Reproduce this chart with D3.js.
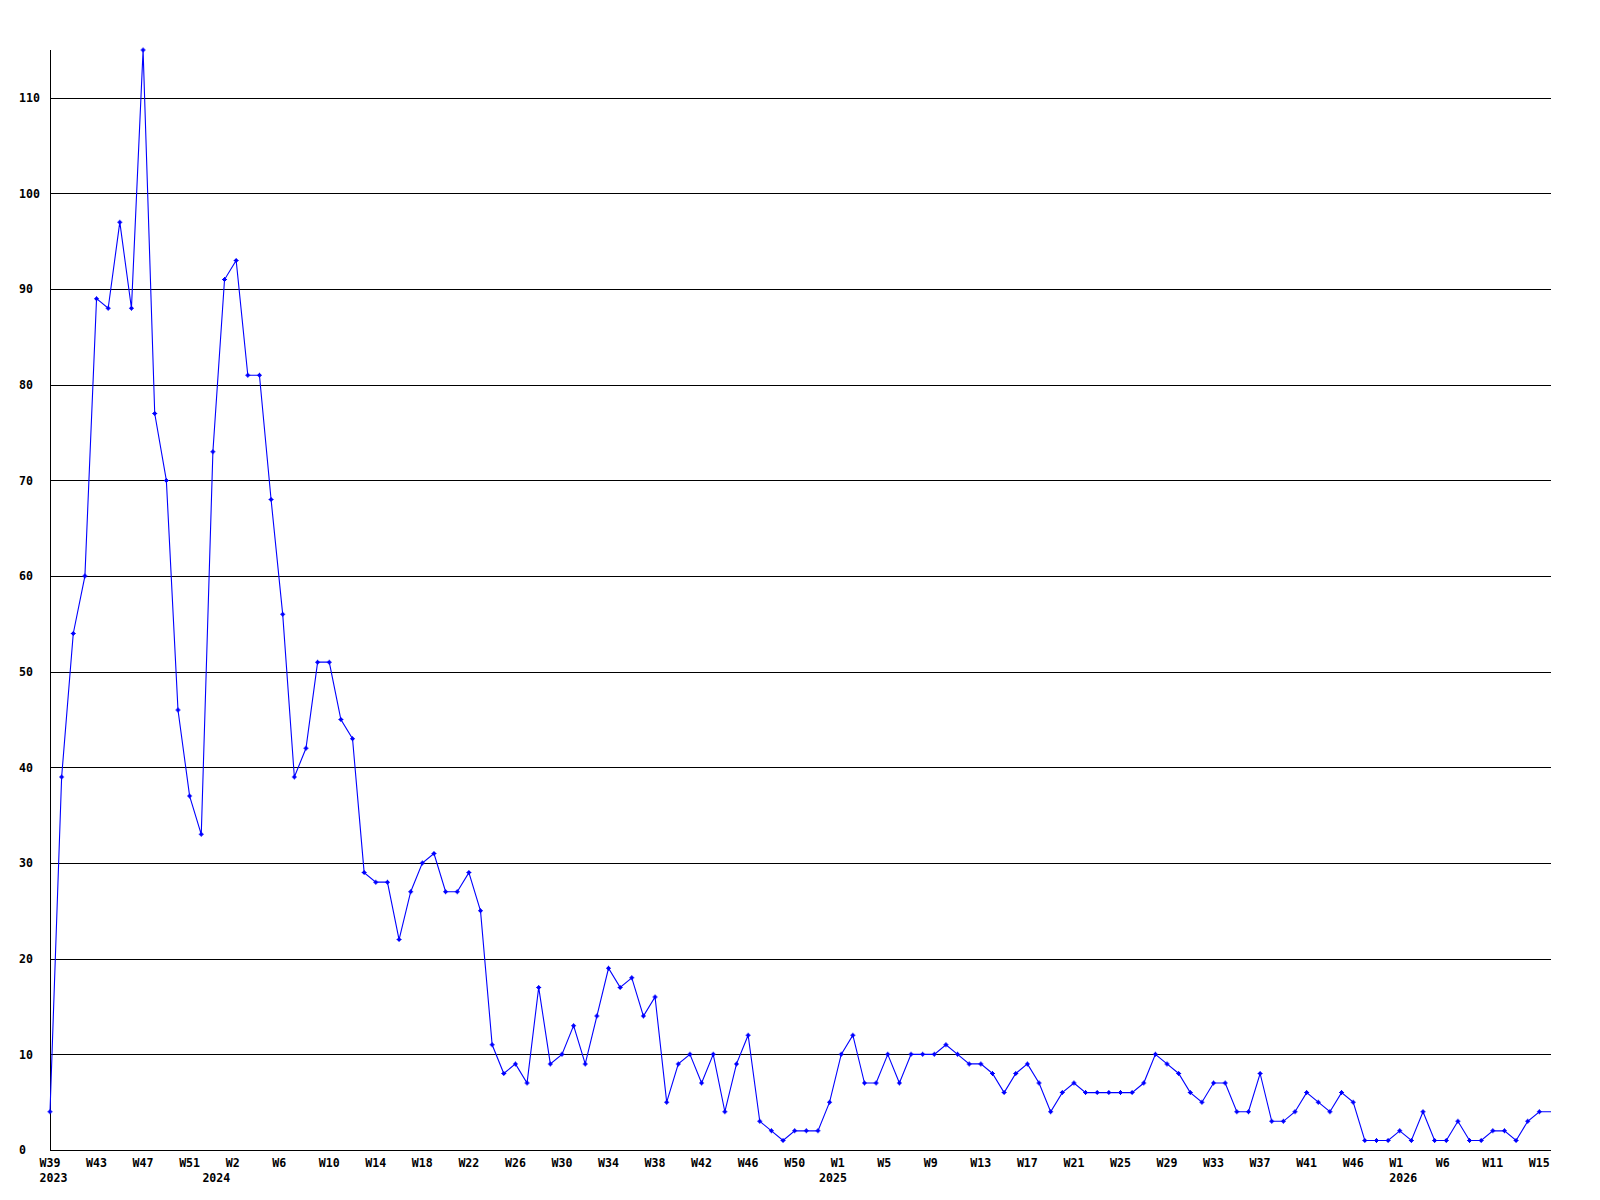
<!DOCTYPE html>
<html>
<head>
<meta charset="utf-8">
<script src="https://cdnjs.cloudflare.com/ajax/libs/d3/7.8.5/d3.min.js"></script>
<style>
    body { margin: 0; background: #fff; }
    text { font-family: "DejaVu Sans Mono", "Liberation Mono", monospace; font-weight: bold; font-size: 11.6px; fill: #000; }
</style>
</head>
<body>
<div id="chart"></div>
<script>
// weekly counts, one per week from W39 2023 (last one is the running week, no marker)
let values = [4, 39, 54, 60, 89, 88, 97, 88, 115, 77,
    70, 46, 37, 33, 73, 91, 93, 81, 81, 68,
    56, 39, 42, 51, 51, 45, 43, 29, 28, 28,
    22, 27, 30, 31, 27, 27, 29, 25, 11, 8,
    9, 7, 17, 9, 10, 13, 9, 14, 19, 17,
    18, 14, 16, 5, 9, 10, 7, 10, 4, 9,
    12, 3, 2, 1, 2, 2, 2, 5, 10, 12,
    7, 7, 10, 7, 10, 10, 10, 11, 10, 9,
    9, 8, 6, 8, 9, 7, 4, 6, 7, 6,
    6, 6, 6, 6, 7, 10, 9, 8, 6, 5,
    7, 7, 4, 4, 8, 3, 3, 4, 6, 5,
    4, 6, 5, 1, 1, 1, 2, 1, 4, 1,
    1, 3, 1, 1, 2, 2, 1, 3, 4, 4];

let weekLabels = ['W39', 'W43', 'W47', 'W51', 'W2', 'W6', 'W10', 'W14', 'W18', 'W22',
    'W26', 'W30', 'W34', 'W38', 'W42', 'W46', 'W50', 'W1', 'W5', 'W9',
    'W13', 'W17', 'W21', 'W25', 'W29', 'W33', 'W37', 'W41', 'W46', 'W1',
    'W6', 'W11', 'W15'];
let weekStep = 4;

let yearLabels = ['2023', '2024', '2025', '2026'];
let yearIndex = [0, 14, 67, 116];

let yTicks = [0, 10, 20, 30, 40, 50, 60, 70, 80, 90, 100, 110];

function drawChart() {
    let margin = {top: 50, right: 49, bottom: 50, left: 50};
    let width = 1600 - margin.left - margin.right;
    let height = 1200 - margin.top - margin.bottom;

    let svg = d3.select('#chart')
        .append('svg')
        .attr('width', 1600)
        .attr('height', 1200)
        .append('g')
        .attr('transform', 'translate(' + margin.left + ', ' + margin.top + ')');

    let x = d3.scaleLinear()
        .domain([0, values.length - 1])
        .range([0, width]);
    let y = d3.scaleLinear()
        .domain([0, d3.max(values)])
        .range([height, 0]);

    // horizontal grid
    svg.append('g')
        .selectAll('line')
        .data(yTicks.filter(d => d > 0))
        .enter().append('line')
        .attr('x1', 0)
        .attr('x2', width)
        .attr('y1', d => Math.round(y(d)) + 0.5)
        .attr('y2', d => Math.round(y(d)) + 0.5)
        .style('stroke', '#000')
        .style('shape-rendering', 'crispEdges');

    // axes lines
    svg.append('line')
        .attr('x1', 0.5).attr('x2', 0.5)
        .attr('y1', 0).attr('y2', height + 0.5)
        .style('stroke', '#000')
        .style('shape-rendering', 'crispEdges');
    svg.append('line')
        .attr('x1', 0).attr('x2', width)
        .attr('y1', height + 0.5).attr('y2', height + 0.5)
        .style('stroke', '#000')
        .style('shape-rendering', 'crispEdges');

    // y labels
    svg.append('g')
        .selectAll('text')
        .data(yTicks)
        .enter().append('text')
        .attr('x', 19 - margin.left)
        .attr('y', d => y(d))
        .attr('dy', '0.36em')
        .text(d => d);

    // week labels, every 4th point
    svg.append('g')
        .selectAll('text')
        .data(weekLabels)
        .enter().append('text')
        .attr('x', (d, i) => x(i * weekStep) - 10.5)
        .attr('y', height + 17)
        .text(d => d);

    // year labels
    svg.append('g')
        .selectAll('text')
        .data(yearLabels)
        .enter().append('text')
        .attr('x', (d, i) => x(yearIndex[i]) - 10.5)
        .attr('y', height + 32)
        .text(d => d);

    let line = d3.line()
        .x((d, i) => x(i))
        .y(d => y(d));

    svg.append('path')
        .datum(values)
        .attr('d', line)
        .style('fill', 'none')
        .style('stroke', '#0000ff')
        .style('stroke-width', 1.1);

    // small cross markers
    let marker = 'M-2.5,-0.5h5v1h-5z M-0.5,-2.5h1v5h-1z M-1.5,-1.5h3v3h-3z';
    svg.append('g')
        .selectAll('path')
        .data(values.slice(0, values.length - 1))
        .enter().append('path')
        .attr('d', marker)
        .attr('transform', (d, i) => 'translate(' + x(i) + ',' + y(d) + ')')
        .style('fill', '#0000ff');
}

drawChart();
</script>
</body>
</html>
